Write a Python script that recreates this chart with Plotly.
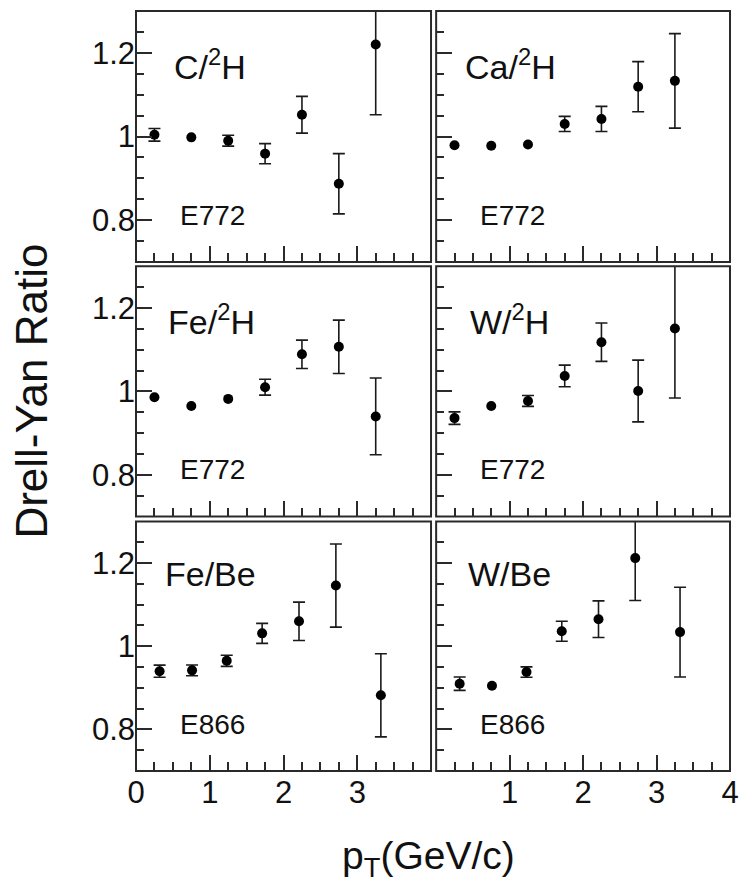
import plotly.graph_objects as go

# ---------------- data ----------------
pt_e772 = [0.25, 0.75, 1.25, 1.75, 2.25, 2.75, 3.25]
pt_e866 = [0.32, 0.76, 1.23, 1.71, 2.21, 2.71, 3.32]

c_h_ratio = [1.004, 0.998, 0.990, 0.959, 1.052, 0.887, 1.220]
c_h_err = [0.015, 0.004, 0.013, 0.024, 0.044, 0.072, 0.168]

ca_h_ratio = [0.979, 0.978, 0.981, 1.030, 1.042, 1.119, 1.133]
ca_h_err = [0.004, 0.004, 0.004, 0.018, 0.030, 0.060, 0.113]

fe_h_ratio = [0.986, 0.965, 0.982, 1.010, 1.089, 1.107, 0.940]
fe_h_err = [0.004, 0.004, 0.004, 0.019, 0.034, 0.064, 0.092]

w_h_ratio = [0.936, 0.965, 0.977, 1.037, 1.118, 1.001, 1.151]
w_h_err = [0.015, 0.004, 0.013, 0.026, 0.046, 0.074, 0.167]

fe_be_ratio = [0.940, 0.942, 0.965, 1.031, 1.060, 1.146, 0.882]
fe_be_err = [0.0145, 0.013, 0.0135, 0.024, 0.046, 0.100, 0.100]

w_be_ratio = [0.910, 0.905, 0.938, 1.036, 1.065, 1.212, 1.034]
w_be_err = [0.016, 0.004, 0.0125, 0.024, 0.044, 0.102, 0.108]

panel_names = ["C/<sup>2</sup>H", "Ca/<sup>2</sup>H", "Fe/<sup>2</sup>H",
               "W/<sup>2</sup>H", "Fe/Be", "W/Be"]
experiments = ["E772", "E772", "E772", "E772", "E866", "E866"]

# tick labels hidden where the two columns meet
x_hidden_left = {"4": " "}
x_hidden_right = {"0": " "}

# ---------------- figure ----------------
FONT = "Liberation Sans, Arial, Helvetica, sans-serif"
INK = "#111111"
LINE = "#2a2a2a"
W, H = 749, 882
ML, MR, MT, MB = 136, 10, 11, 111
PW, PH = W - ML - MR, H - MT - MB

def px_x(a, b):
    return [(a - ML) / PW, (b - ML) / PW]

def px_y(top, bottom):
    return [(H - MB - bottom) / PH, (H - MB - top) / PH]

col_dom = [px_x(136, 435.5), px_x(440.7, 739)]
row_dom = [px_y(11, 262), px_y(266.3, 516.5), px_y(521.5, 771)]

panels = [
    (pt_e772, c_h_ratio, c_h_err, 0, 0, 0.49),
    (pt_e772, ca_h_ratio, ca_h_err, 0, 1, 0.37),
    (pt_e772, fe_h_ratio, fe_h_err, 1, 0, 0.40),
    (pt_e772, w_h_ratio, w_h_err, 1, 1, 0.43),
    (pt_e866, fe_be_ratio, fe_be_err, 2, 0, 0.365),
    (pt_e866, w_be_ratio, w_be_err, 2, 1, 0.41),
]

fig = go.Figure()
layout = {}
annotations = []
shapes = []

for i, (xs, ys, es, r, c, lab_x) in enumerate(panels):
    n = i + 1
    xa = "x" if n == 1 else f"x{n}"
    ya = "y" if n == 1 else f"y{n}"
    xkey = "xaxis" if n == 1 else f"xaxis{n}"
    ykey = "yaxis" if n == 1 else f"yaxis{n}"

    # error bars only where they reach outside the marker
    ex = [x for x, e in zip(xs, es) if e > 0.008]
    ey = [y for y, e in zip(ys, es) if e > 0.008]
    ee = [e for e in es if e > 0.008]
    fig.add_trace(go.Scatter(
        x=ex, y=ey, mode="markers", xaxis=xa, yaxis=ya,
        marker=dict(size=1, color="rgba(0,0,0,0)"),
        error_y=dict(type="data", array=ee, visible=True,
                     color="#1a1a1a", thickness=1.6, width=6),
        showlegend=False, hoverinfo="skip"))
    fig.add_trace(go.Scatter(
        x=xs, y=ys, mode="markers", xaxis=xa, yaxis=ya,
        marker=dict(size=10, color="#000000"),
        showlegend=False))

    bottom = (r == 2)
    layout[xkey] = dict(
        domain=col_dom[c], anchor=ya, range=[0, 4],
        showline=False,
        ticks="inside", ticklen=16, tickwidth=1.5, tickcolor=LINE,
        tickmode="linear", tick0=0, dtick=1,
        labelalias=(x_hidden_left if c == 0 else x_hidden_right),
        showticklabels=bottom,
        minor=dict(tickmode="linear", tick0=0, dtick=0.25, ticks="inside",
                   ticklen=9, tickwidth=1.5, tickcolor=LINE, showgrid=False),
        showgrid=False, zeroline=False,
        tickfont=dict(family=FONT, size=31, color=INK),
    )
    layout[ykey] = dict(
        domain=row_dom[r], anchor=xa, range=[0.7, 1.3],
        showline=False,
        ticks="inside", ticklen=16, tickwidth=1.5, tickcolor=LINE,
        tickmode="linear", tick0=0, dtick=0.2,
        showticklabels=(c == 0),
        minor=dict(tickmode="linear", tick0=0, dtick=0.05, ticks="inside",
                   ticklen=8, tickwidth=1.5, tickcolor=LINE, showgrid=False),
        showgrid=False, zeroline=False,
        tickfont=dict(family=FONT, size=31, color=INK),
    )

    # panel frame
    shapes.append(dict(
        type="rect", xref=f"{xa} domain", yref=f"{ya} domain",
        x0=0, x1=1, y0=0, y1=1, layer="above",
        line=dict(color=LINE, width=2), fillcolor="rgba(0,0,0,0)"))

    annotations.append(dict(
        x=lab_x, y=1.173, xref=xa, yref=ya, text=panel_names[i],
        showarrow=False, xanchor="left", yanchor="middle",
        font=dict(family=FONT, size=34, color=INK)))
    annotations.append(dict(
        x=0.565, y=0.812, xref=xa, yref=ya, text=experiments[i],
        showarrow=False, xanchor="left", yanchor="middle",
        font=dict(family=FONT, size=28, color=INK)))

annotations.append(dict(
    x=(29 - ML) / PW, y=0.5, xref="paper", yref="paper",
    text="Drell-Yan Ratio", textangle=-90, showarrow=False,
    xanchor="center", yanchor="middle",
    font=dict(family=FONT, size=44, color=INK)))
annotations.append(dict(
    x=(432.5 - ML) / PW, y=(H - MB - 858) / PH, xref="paper", yref="paper",
    text="p<sub>T</sub>(GeV/c)", showarrow=False,
    xanchor="center", yanchor="middle",
    font=dict(family=FONT, size=39, color=INK)))

fig.update_layout(
    width=W, height=H,
    margin=dict(l=ML, r=MR, t=MT, b=MB),
    plot_bgcolor="white", paper_bgcolor="white",
    annotations=annotations,
    shapes=shapes,
    **layout,
)

fig.write_html("out.html")
